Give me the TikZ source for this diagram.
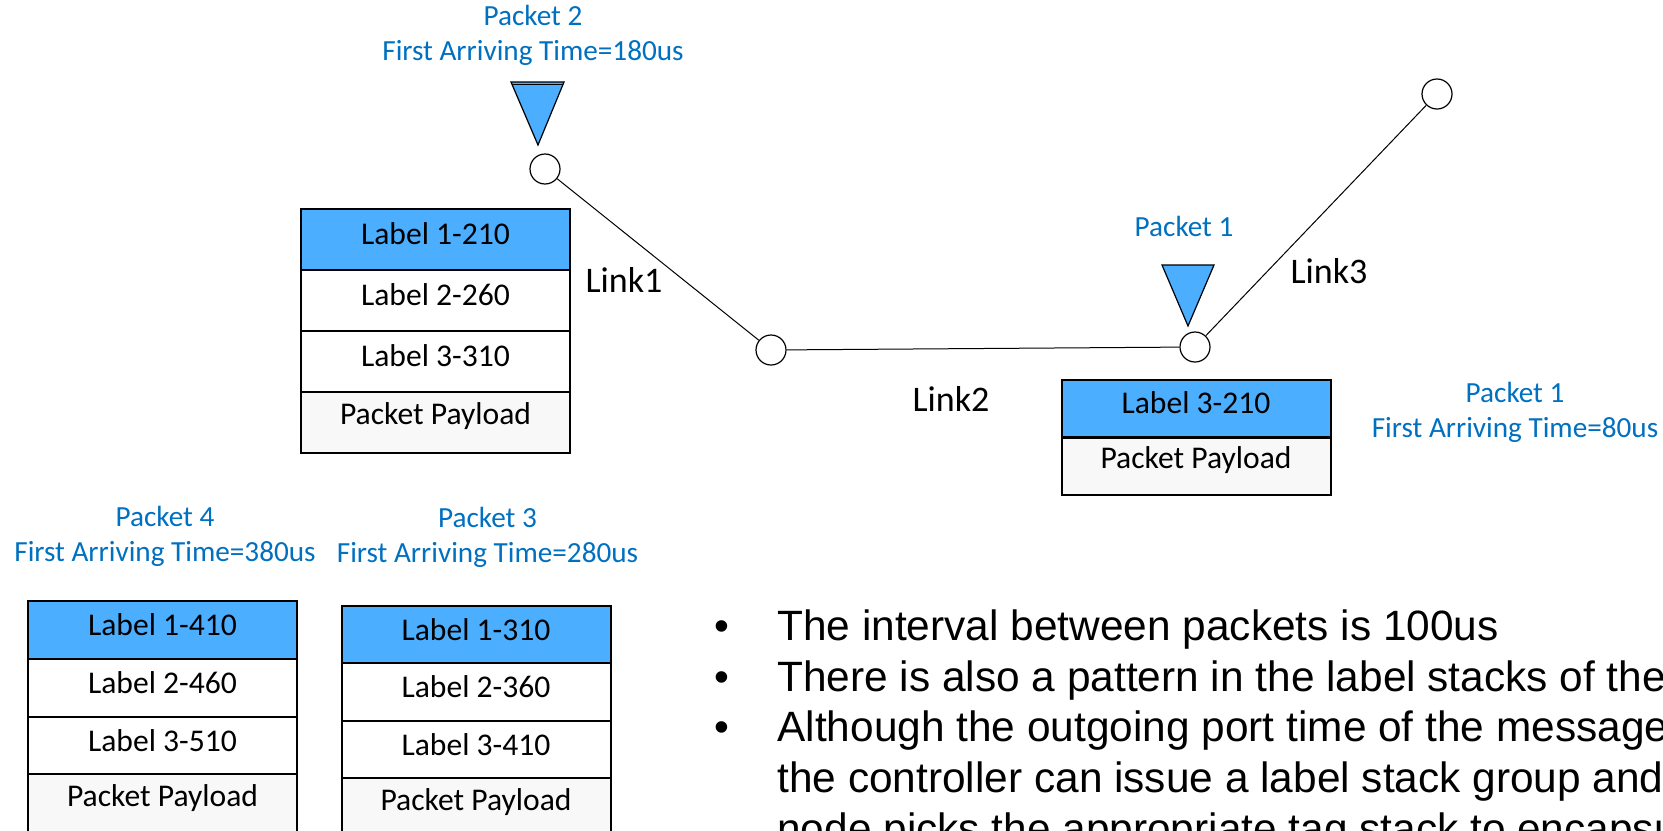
\documentclass[tikz,border=0pt]{standalone}
\usepackage{fontspec}
\setmainfont{Carlito}
\newfontfamily\bulletfont{Liberation Sans}
\definecolor{cellblue}{RGB}{75,174,255}
\definecolor{txtblue}{RGB}{0,112,192}
\definecolor{payload}{RGB}{248,248,248}
\begin{document}
\begin{tikzpicture}[x=0.5pt,y=-0.5pt,
 nd/.style={circle,draw,fill=white,line width=0.6pt,minimum size=15pt,inner sep=0pt},
 cell/.style={draw,line width=1pt,minimum width=134.5pt,inner sep=0pt},
 ctext/.style={font=\fontsize{15.8pt}{19pt}\selectfont,inner sep=0pt},
 ptext/.style={font=\fontsize{14.6pt}{17.5pt}\selectfont,text=txtblue,align=center,inner sep=0pt},
 ltext/.style={font=\fontsize{18pt}{21pt}\selectfont,inner sep=0pt},
 btext/.style={font=\bulletfont\fontsize{21.2pt}{25pt}\selectfont,anchor=base west,inner sep=0pt},
 tri/.style={fill=cellblue,draw,line width=0.6pt,line join=miter},
 link/.style={draw,line width=0.5pt}
]
\clip (0,0) rectangle (1663,830);
\fill[white] (0,0) rectangle (1663,830);

% network nodes
\node[nd] (n1) at (545,169) {};
\node[nd] (n2) at (771,350) {};
\node[nd] (n3) at (1195,347) {};
\node[nd] (n4) at (1437,94) {};
\path[link] (n1) -- (n2);
\path[link] (n2) -- (n3);
\path[link] (n3) -- (n4);

% link labels
\node[ltext] (lk1) at (624,280) {Link1};
\node[ltext] (lk2) at (951,399) {Link2};
\node[ltext] (lk3) at (1329,271) {Link3};

% packet markers
\coordinate (t2a) at (511,82);
\coordinate (t2b) at (564,82);
\coordinate (t2c) at (538,145);
\draw[tri] (t2a) -- (t2b) -- (t2c) -- cycle;
\draw[line width=0.5pt] (512,84.5) -- (563,84.5);
\coordinate (t1a) at (1162,265);
\coordinate (t1b) at (1214,265);
\coordinate (t1c) at (1188,326);
\draw[tri] (t1a) -- (t1b) -- (t1c) -- cycle;

% packet labels
\node[ptext] (p2) at (533,35.5) {Packet 2\\First Arriving Time=180us};
\node[ptext] (p1a) at (1184,226) {Packet 1};
\node[ptext] (p1b) at (1515,412.5) {Packet 1\\First Arriving Time=80us};
\node[ptext] (p4) at (165,536.5) {Packet 4\\First Arriving Time=380us};
\node[ptext] (p3) at (487.5,537.5) {Packet 3\\First Arriving Time=280us};

% stack 1 (packet 2)
\node[cell,fill=cellblue,minimum height=30.5pt] (s1a) at (435.5,239.5) {};
\node[cell,fill=white,minimum height=30.5pt] (s1b) at (435.5,300.5) {};
\node[cell,fill=white,minimum height=30.5pt] (s1c) at (435.5,361.5) {};
\node[cell,fill=payload,minimum height=30.5pt] (s1d) at (435.5,422) {};
\node[ctext] at ([yshift=3pt]s1a.center) {Label 1-210};
\node[ctext] at ([yshift=3pt]s1b.center) {Label 2-260};
\node[ctext] at ([yshift=3pt]s1c.center) {Label 3-310};
\node[ctext] at ([yshift=3pt]s1d.center) {Packet Payload};

% stack 2 (packet 1)
\node[cell,fill=cellblue,minimum height=28.5pt] (s2a) at (1196,408.5) {};
\node[cell,fill=payload,minimum height=28.5pt] (s2b) at (1196,466) {};
\node[ctext] at ([yshift=3pt]s2a.center) {Label 3-210};
\node[ctext] at ([yshift=3pt]s2b.center) {Packet Payload};

% stack 4 (packet 4)
\node[cell,fill=cellblue,minimum height=29pt] (s4a) at (162.5,630) {};
\node[cell,fill=white,minimum height=29pt] (s4b) at (162.5,688) {};
\node[cell,fill=white,minimum height=29pt] (s4c) at (162.5,745.5) {};
\node[cell,fill=payload,minimum height=29pt] (s4d) at (162.5,803) {};
\node[ctext] at ([yshift=2.5pt]s4a.center) {Label 1-410};
\node[ctext] at ([yshift=2.5pt]s4b.center) {Label 2-460};
\node[ctext] at ([yshift=2.5pt]s4c.center) {Label 3-510};
\node[ctext] at ([yshift=2.5pt]s4d.center) {Packet Payload};

% stack 3 (packet 3)
\node[cell,fill=cellblue,minimum height=29pt] (s3a) at (476,634.5) {};
\node[cell,fill=white,minimum height=29pt] (s3b) at (476,692) {};
\node[cell,fill=white,minimum height=29pt] (s3c) at (476,749.5) {};
\node[cell,fill=payload,minimum height=29pt] (s3d) at (476,807) {};
\node[ctext] at ([yshift=2.5pt]s3a.center) {Label 1-310};
\node[ctext] at ([yshift=2.5pt]s3b.center) {Label 2-360};
\node[ctext] at ([yshift=2.5pt]s3c.center) {Label 3-410};
\node[ctext] at ([yshift=2.5pt]s3d.center) {Packet Payload};

% bullet text
\node[btext] (b1) at (714,640) {•};
\node[btext] (b2) at (714,691) {•};
\node[btext] (b3) at (714,741) {•};
\node[btext] (l1) at (777,640) {The interval between packets is 100us};
\node[btext] (l2) at (777,691) {There is also a pattern in the label stacks of the};
\node[btext] (l3) at (777,741) {Although the outgoing port time of the message};
\node[btext] (l4) at (777,792) {the controller can issue a label stack group and};
\node[btext] (l5) at (777,843) {node picks the appropriate tag stack to encapsu};
\end{tikzpicture}
\end{document}
